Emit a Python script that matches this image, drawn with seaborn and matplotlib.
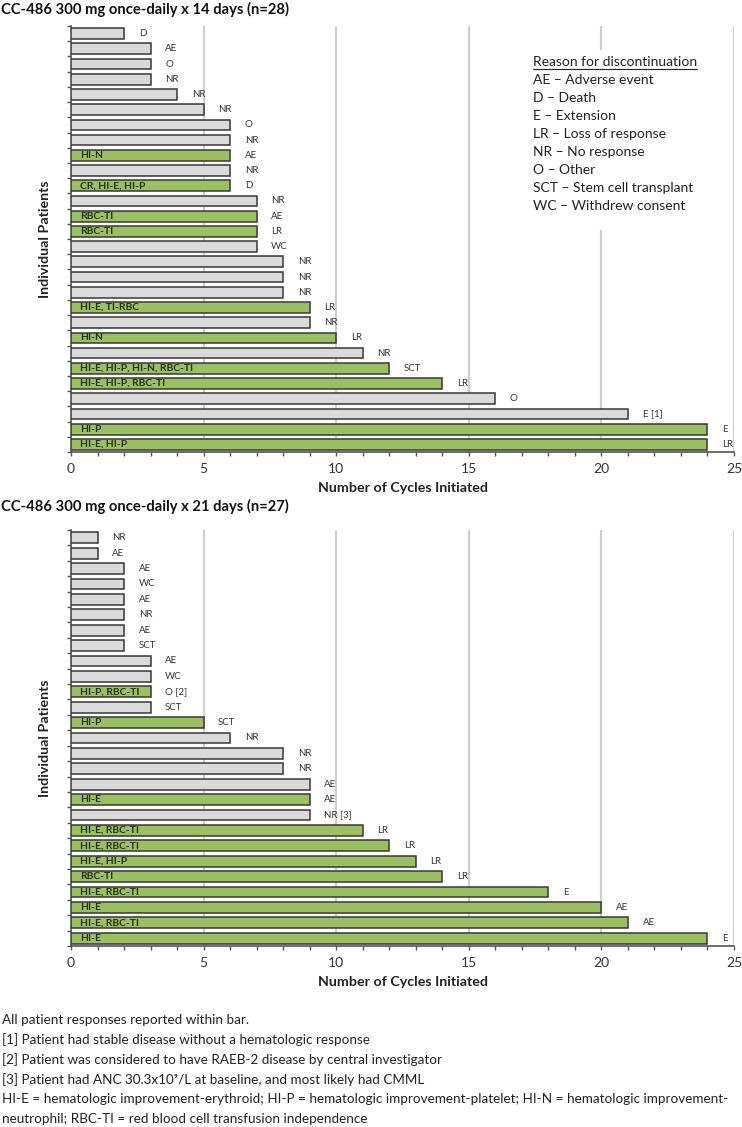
import numpy as np
import pandas as pd
import matplotlib
matplotlib.use("Agg")
import matplotlib.pyplot as plt
import seaborn as sns
from matplotlib.lines import Line2D

# --- top panel: 14-day schedule (top to bottom) ---
cycles_14 = [2, 3, 3, 3, 4, 5, 6, 6, 6, 6, 6, 7, 7, 7, 7, 8, 8, 8, 9, 9, 10, 11, 12, 14, 16, 21, 24, 24]
reason_14 = ["D", "AE", "O", "NR", "NR", "NR", "O", "NR", "AE", "NR", "D", "NR", "AE", "LR", "WC",
             "NR", "NR", "NR", "LR", "NR", "LR", "NR", "SCT", "LR", "O", "E [1]", "E", "LR"]
resp_14 = ["", "", "", "", "", "", "", "", "HI-N", "", "CR, HI-E, HI-P", "", "RBC-TI", "RBC-TI", "",
           "", "", "", "HI-E, TI-RBC", "", "HI-N", "", "HI-E, HI-P, HI-N, RBC-TI", "HI-E, HI-P, RBC-TI",
           "", "", "HI-P", "HI-E, HI-P"]

# --- bottom panel: 21-day schedule (top to bottom) ---
cycles_21 = [1, 1, 2, 2, 2, 2, 2, 2, 3, 3, 3, 3, 5, 6, 8, 8, 9, 9, 9, 11, 12, 13, 14, 18, 20, 21, 24]
reason_21 = ["NR", "AE", "AE", "WC", "AE", "NR", "AE", "SCT", "AE", "WC", "O [2]", "SCT", "SCT", "NR",
             "NR", "NR", "AE", "AE", "NR [3]", "LR", "LR", "LR", "LR", "E", "AE", "AE", "E"]
resp_21 = ["", "", "", "", "", "", "", "", "", "", "HI-P, RBC-TI", "", "HI-P", "", "", "", "", "HI-E",
           "", "HI-E, RBC-TI", "HI-E, RBC-TI", "HI-E, HI-P", "RBC-TI", "HI-E, RBC-TI", "HI-E",
           "HI-E, RBC-TI", "HI-E"]

legend_lines = ["AE \u2013 Adverse event", "D \u2013 Death", "E \u2013 Extension", "LR \u2013 Loss of response",
                "NR \u2013 No response", "O \u2013 Other", "SCT \u2013 Stem cell transplant",
                "WC \u2013 Withdrew consent"]

footnotes = [
    "All patient responses reported within bar.",
    "[1] Patient had stable disease without a hematologic response",
    "[2] Patient was considered to have RAEB-2 disease by central investigator",
    "[3] Patient had ANC 30.3x10\u2079/L at baseline, and most likely had CMML",
    "HI-E = hematologic improvement-erythroid; HI-P = hematologic improvement-platelet; HI-N = hematologic improvement-",
    "neutrophil; RBC-TI = red blood cell transfusion independence",
]

GREEN = "#9DCF53"
GREY = "#DADADA"
EDGE = "#383838"

sns.set_theme(style="white")
plt.rcParams["font.family"] = ["Lato", "DejaVu Sans"]

W, H = 742, 1127
fig = plt.figure(figsize=(W / 100, H / 100), dpi=100)


def px_axes(left, top, right, bottom):
    return fig.add_axes([left / W, 1 - bottom / H, (right - left) / W, (bottom - top) / H])


def draw_panel(ax, cycles, reasons, responses):
    df = pd.DataFrame({
        "patient": [f"p{i}" for i in range(len(cycles))],
        "cycles": cycles,
        "group": ["resp" if r else "none" for r in responses],
    })
    sns.barplot(data=df, x="cycles", y="patient", hue="group", palette={"resp": GREEN, "none": GREY},
                dodge=False, width=0.7, edgecolor=EDGE, linewidth=1.1, legend=False, ax=ax, zorder=3)
    n = len(cycles)
    for i, (c, r, t) in enumerate(zip(cycles, reasons, responses)):
        ax.text(c + 0.55, i, r, va="center", ha="left", fontsize=7, color="#333333", zorder=4)
        if t:
            ax.text(0.33, i, t, va="center", ha="left", fontsize=7.4, fontweight="bold",
                    color="#26330f", zorder=4)
    ax.set_xlim(0, 25)
    ax.set_ylim(n - 0.5, -0.5)
    ax.set_xticks(range(0, 26, 5))
    ax.set_xticks(range(0, 26), minor=True)
    ax.set_yticks(np.arange(-0.5, n, 1))
    ax.set_yticklabels([])
    ax.tick_params(axis="x", which="both", direction="out", length=3, width=1, color="#555555",
                   bottom=True, labelsize=10, labelcolor="#333333", pad=5)
    ax.tick_params(axis="y", direction="out", length=3, width=1, color="#555555", left=True)
    for x in range(5, 26, 5):
        ax.axvline(x, color="#cfcfcf", lw=1.6, zorder=1)
    for s in ["top", "right"]:
        ax.spines[s].set_visible(False)
    for s in ["left", "bottom"]:
        ax.spines[s].set_color("#555555")
        ax.spines[s].set_linewidth(1.2)
    ax.set_xlabel("Number of Cycles Initiated", fontsize=10.3, fontweight="bold", color="#222222", labelpad=5)
    ax.set_ylabel("Individual Patients", fontsize=10.3, fontweight="bold", color="#222222", labelpad=8)


ax1 = px_axes(71, 26, 734, 452)
draw_panel(ax1, cycles_14, reason_14, resp_14)
ax2 = px_axes(71, 530, 734, 946)
draw_panel(ax2, cycles_21, reason_21, resp_21)

fig.text(1 / W, 1 - 9 / H, "CC-486 300 mg once-daily x 14 days (n=28)", fontsize=10.6, fontweight="bold",
         va="center", ha="left", color="#111111")
fig.text(1 / W, 1 - 506 / H, "CC-486 300 mg once-daily x 21 days (n=27)", fontsize=10.6, fontweight="bold",
         va="center", ha="left", color="#111111")

# legend block: white patch hides the grid line behind it
ax1.add_patch(plt.Rectangle((17.3, 1.1), 6.5, 11.8, facecolor="white", edgecolor="none", zorder=2))
lx = 533 / W
title = fig.text(lx, 1 - 62 / H, "Reason for discontinuation", fontsize=10, va="center", ha="left",
                 color="#222222")
for k, line in enumerate(legend_lines):
    fig.text(lx, 1 - (80 + 18 * k) / H, line, fontsize=10, va="center", ha="left", color="#222222")
fig.canvas.draw()
bb = title.get_window_extent().transformed(fig.transFigure.inverted())
fig.add_artist(Line2D([bb.x0, bb.x1], [bb.y0 - 0.0008, bb.y0 - 0.0008], color="#222222", lw=0.8,
                      transform=fig.transFigure))

for k, line in enumerate(footnotes):
    fig.text(2 / W, 1 - (1020 + 19.8 * k) / H, line, fontsize=9.7, va="center", ha="left", color="#222222")

fig.savefig("out.png", dpi=100, facecolor="white")
